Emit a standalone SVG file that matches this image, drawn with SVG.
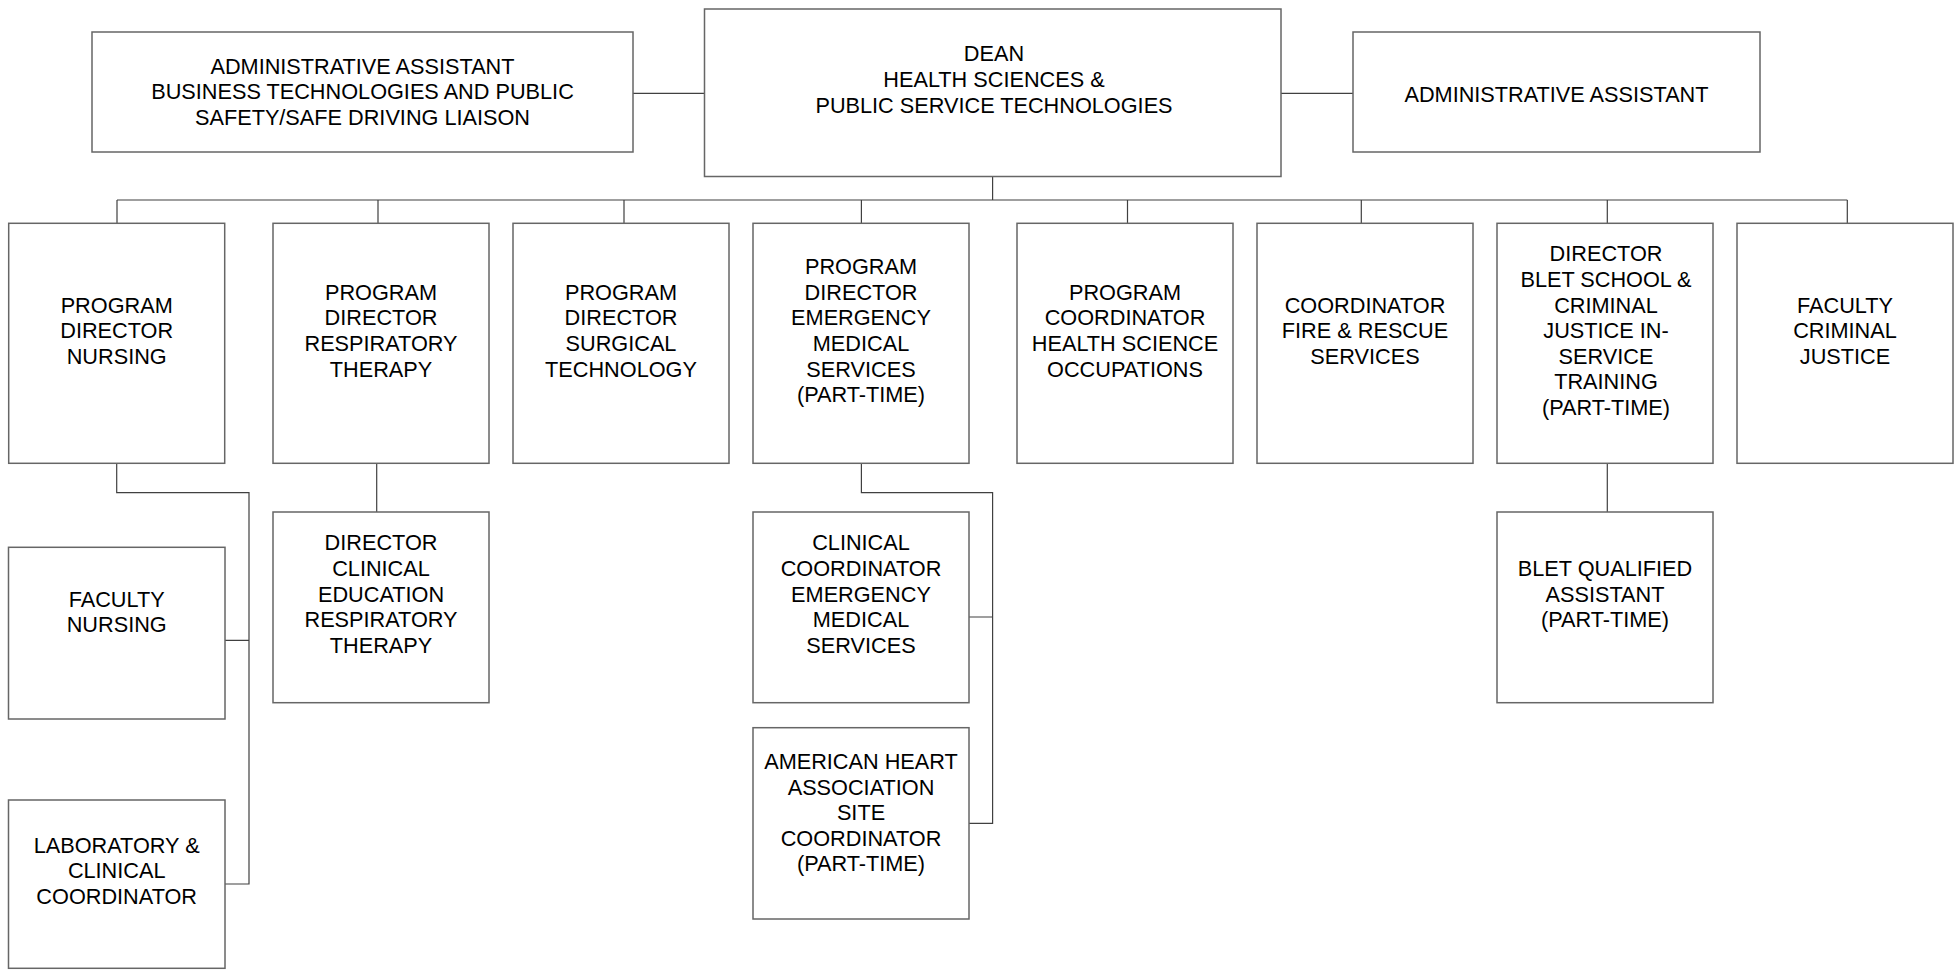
<svg xmlns="http://www.w3.org/2000/svg" width="1954" height="973" viewBox="0 0 1954 973">
<style>
.box{fill:#fff;stroke:#666;stroke-width:1.5}
.t{font-family:"Liberation Sans",Arial,sans-serif;font-size:21.7px;fill:#000;text-anchor:middle}
.c{fill:none;stroke:#404040;stroke-width:1.2}
</style>
<rect width="1954" height="973" fill="#fff"/>
<g id="connectors">
<path class="c" d="M633 93.3H704.5M1281 93.3H1353M992.6 176.5V200M117 200H1847.3"/>
<path class="c" d="M117 200V223.3M378 200V223.3M624 200V223.3M861.4 200V223.3M1127.5 200V223.3M1361.3 200V223.3M1607.3 200V223.3M1847.3 200V223.3"/>
<path class="c" d="M116.7 463.3V492.7H249V884H225M225 640.3H249"/>
<path class="c" d="M376.7 463.3V512"/>
<path class="c" d="M861.4 463.3V492.7H992.6V823.3H969M969 617H992.6"/>
<path class="c" d="M1607.3 463.3V512"/>
</g>
<g id="admin-left"><rect class="box" x="92" y="32" width="541" height="120"/>
<text class="t" x="362.5"><tspan x="362.5" y="73.7">ADMINISTRATIVE ASSISTANT</tspan><tspan x="362.5" y="99.3">BUSINESS TECHNOLOGIES AND PUBLIC</tspan><tspan x="362.5" y="124.9">SAFETY/SAFE DRIVING LIAISON</tspan></text></g>
<g id="dean"><rect class="box" x="704.5" y="9" width="576.5" height="167.5"/>
<text class="t"><tspan x="994" y="61.3">DEAN</tspan><tspan x="994" y="86.9">HEALTH SCIENCES &amp;</tspan><tspan x="994" y="112.5">PUBLIC SERVICE TECHNOLOGIES</tspan></text></g>
<g id="admin-right"><rect class="box" x="1353" y="32" width="407" height="120"/>
<text class="t" x="1556.5" y="102">ADMINISTRATIVE ASSISTANT</text></g>
<g id="pd-nursing"><rect class="box" x="8.7" y="223.3" width="216" height="240"/>
<text class="t"><tspan x="116.7" y="312.6">PROGRAM</tspan><tspan x="116.7" y="338.2">DIRECTOR</tspan><tspan x="116.7" y="363.8">NURSING</tspan></text></g>
<g id="pd-respiratory"><rect class="box" x="273" y="223.3" width="216" height="240"/>
<text class="t"><tspan x="381" y="299.8">PROGRAM</tspan><tspan x="381" y="325.4">DIRECTOR</tspan><tspan x="381" y="351">RESPIRATORY</tspan><tspan x="381" y="376.6">THERAPY</tspan></text></g>
<g id="pd-surgical"><rect class="box" x="513" y="223.3" width="216" height="240"/>
<text class="t"><tspan x="621" y="299.8">PROGRAM</tspan><tspan x="621" y="325.4">DIRECTOR</tspan><tspan x="621" y="351">SURGICAL</tspan><tspan x="621" y="376.6">TECHNOLOGY</tspan></text></g>
<g id="pd-ems"><rect class="box" x="753" y="223.3" width="216" height="240"/>
<text class="t"><tspan x="861" y="274.2">PROGRAM</tspan><tspan x="861" y="299.8">DIRECTOR</tspan><tspan x="861" y="325.4">EMERGENCY</tspan><tspan x="861" y="351">MEDICAL</tspan><tspan x="861" y="376.6">SERVICES</tspan><tspan x="861" y="402.2">(PART-TIME)</tspan></text></g>
<g id="pc-hso"><rect class="box" x="1017" y="223.3" width="216" height="240"/>
<text class="t"><tspan x="1125" y="299.8">PROGRAM</tspan><tspan x="1125" y="325.4">COORDINATOR</tspan><tspan x="1125" y="351">HEALTH SCIENCE</tspan><tspan x="1125" y="376.6">OCCUPATIONS</tspan></text></g>
<g id="coord-fire"><rect class="box" x="1257" y="223.3" width="216" height="240"/>
<text class="t"><tspan x="1365" y="312.6">COORDINATOR</tspan><tspan x="1365" y="338.2">FIRE &amp; RESCUE</tspan><tspan x="1365" y="363.8">SERVICES</tspan></text></g>
<g id="dir-blet"><rect class="box" x="1497" y="223.3" width="216" height="240"/>
<text class="t"><tspan x="1606" y="261.4">DIRECTOR</tspan><tspan x="1606" y="287">BLET SCHOOL &amp;</tspan><tspan x="1606" y="312.6">CRIMINAL</tspan><tspan x="1606" y="338.2">JUSTICE IN-</tspan><tspan x="1606" y="363.8">SERVICE</tspan><tspan x="1606" y="389.4">TRAINING</tspan><tspan x="1606" y="415">(PART-TIME)</tspan></text></g>
<g id="faculty-cj"><rect class="box" x="1737" y="223.3" width="216" height="240"/>
<text class="t"><tspan x="1845" y="312.6">FACULTY</tspan><tspan x="1845" y="338.2">CRIMINAL</tspan><tspan x="1845" y="363.8">JUSTICE</tspan></text></g>
<g id="faculty-nursing"><rect class="box" x="8.5" y="547.3" width="216.5" height="171.7"/>
<text class="t"><tspan x="116.7" y="606.5">FACULTY</tspan><tspan x="116.7" y="632.1">NURSING</tspan></text></g>
<g id="lab-coord"><rect class="box" x="8.5" y="800" width="216.5" height="168.3"/>
<text class="t"><tspan x="116.7" y="852.7">LABORATORY &amp;</tspan><tspan x="116.7" y="878.3">CLINICAL</tspan><tspan x="116.7" y="903.9">COORDINATOR</tspan></text></g>
<g id="dir-clinical-ed"><rect class="box" x="273" y="512" width="216" height="190.7"/>
<text class="t"><tspan x="381" y="550.4">DIRECTOR</tspan><tspan x="381" y="576">CLINICAL</tspan><tspan x="381" y="601.6">EDUCATION</tspan><tspan x="381" y="627.2">RESPIRATORY</tspan><tspan x="381" y="652.8">THERAPY</tspan></text></g>
<g id="clinical-coord-ems"><rect class="box" x="753" y="512" width="216" height="190.7"/>
<text class="t"><tspan x="861" y="550.4">CLINICAL</tspan><tspan x="861" y="576">COORDINATOR</tspan><tspan x="861" y="601.6">EMERGENCY</tspan><tspan x="861" y="627.2">MEDICAL</tspan><tspan x="861" y="652.8">SERVICES</tspan></text></g>
<g id="aha-coord"><rect class="box" x="753" y="727.7" width="216" height="191.3"/>
<text class="t"><tspan x="861" y="769">AMERICAN HEART</tspan><tspan x="861" y="794.6">ASSOCIATION</tspan><tspan x="861" y="820.2">SITE</tspan><tspan x="861" y="845.8">COORDINATOR</tspan><tspan x="861" y="871.4">(PART-TIME)</tspan></text></g>
<g id="blet-assistant"><rect class="box" x="1497" y="512" width="216" height="190.7"/>
<text class="t"><tspan x="1605" y="576">BLET QUALIFIED</tspan><tspan x="1605" y="601.6">ASSISTANT</tspan><tspan x="1605" y="627.2">(PART-TIME)</tspan></text></g>
</svg>
